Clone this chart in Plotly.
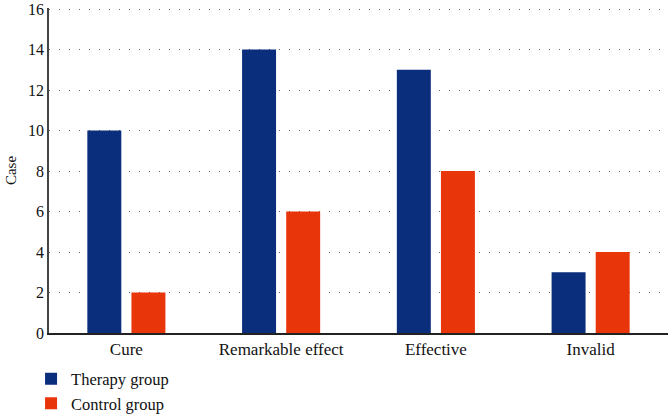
import plotly.graph_objects as go

categories = ["Cure", "Remarkable effect", "Effective", "Invalid"]
therapy = [10, 14, 13, 3]
control = [2, 6, 8, 4]
y_ticks = [0, 2, 4, 6, 8, 10, 12, 14, 16]

font = "Liberation Serif, Times New Roman, serif"

fig = go.Figure()
fig.add_trace(go.Bar(name="Therapy group", x=categories, y=therapy,
                     marker=dict(color="#0a2d7c", line=dict(width=0))))
fig.add_trace(go.Bar(name="Control group", x=categories, y=control,
                     marker=dict(color="#e8350a", line=dict(width=0))))

fig.update_layout(
    width=668, height=414,
    margin=dict(l=49, r=0, t=8, b=81, autoexpand=False),
    paper_bgcolor="white", plot_bgcolor="white",
    barmode="group", bargap=0.43, bargroupgap=0.23,
    font=dict(family=font, size=16, color="#111111"),
    showlegend=True,
    legend=dict(orientation="v", x=-0.029, y=-0.088,
                xanchor="left", yanchor="top",
                font=dict(family=font, size=16.5), itemwidth=30,
                tracegroupgap=0, bgcolor="rgba(0,0,0,0)"),
    xaxis=dict(showline=True, linecolor="#222222", linewidth=1.5,
               ticks="", showgrid=False, tickfont=dict(size=17),
               automargin=False),
    yaxis=dict(range=[0, 16.05], tickvals=y_ticks,
               ticktext=[str(v) for v in y_ticks], showline=True,
               linecolor="#444444", linewidth=1.5, ticks="",
               showgrid=True, gridcolor="#666666", griddash="1px,9px",
               gridwidth=1, zeroline=False, automargin=False,
               title=dict(text="Case", standoff=8, font=dict(size=15)),
               tickfont=dict(size=16)),
)

fig.write_html("out.html", post_script="document.body.style.margin='0';",
               config={"displayModeBar": False})
